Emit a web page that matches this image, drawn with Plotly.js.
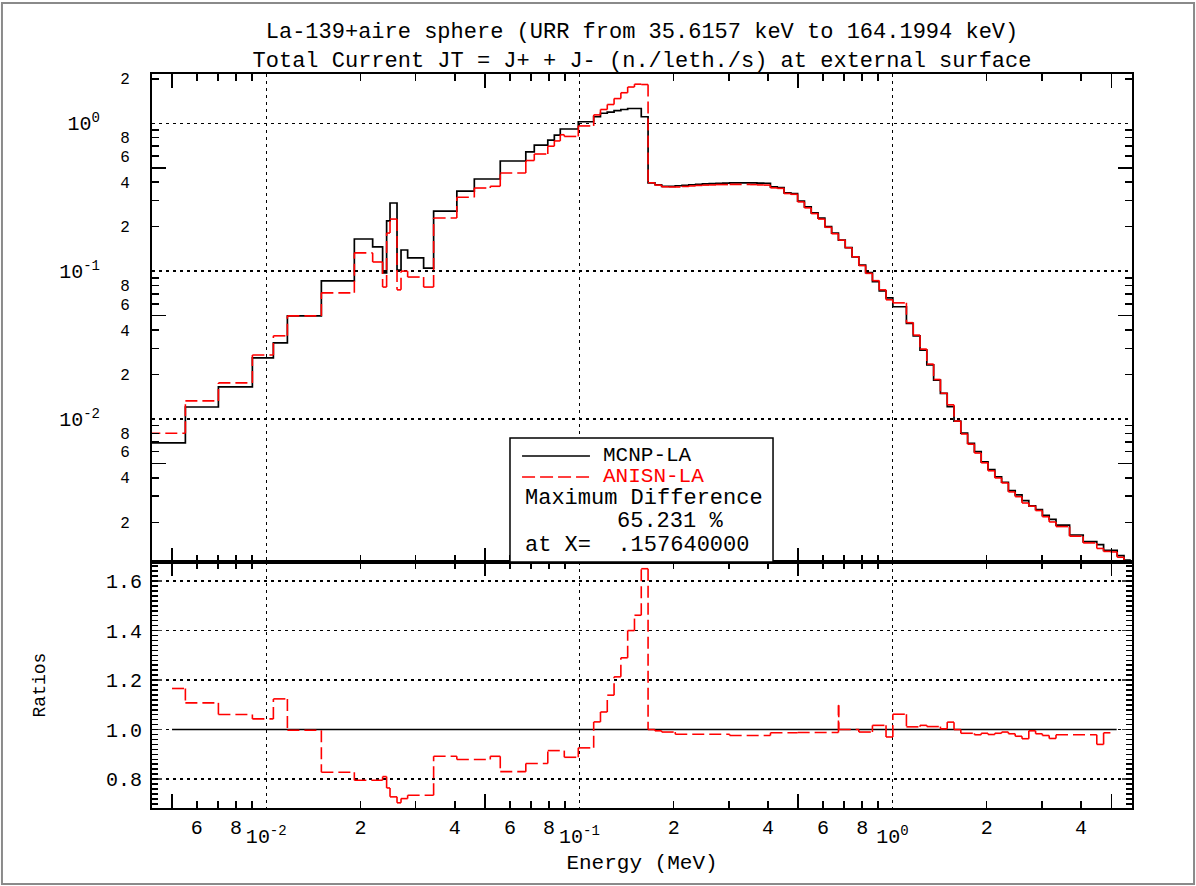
<!DOCTYPE html>
<html><head><meta charset="utf-8">
<script src="https://cdn.plot.ly/plotly-3.0.1.min.js"></script>
<style>html,body{margin:0;padding:0;background:#fff}#chart{width:1196px;height:886px}</style>
</head><body><div id="chart"></div>
<script>
// ---- Data (energy group edges in MeV) ----
const binEdges = [
  0.0042, 0.005516, 0.007032, 0.009028, 0.010536, 0.011679, 0.014994, 0.01911, 0.021866, 0.023526,
  0.024229, 0.024843, 0.026156, 0.026938, 0.028281, 0.031806, 0.034233, 0.040608, 0.046181, 0.05193,
  0.055884, 0.06744, 0.071779, 0.07927, 0.08318, 0.086896, 0.089495, 0.099197, 0.11109, 0.11678,
  0.12277, 0.12906, 0.13568, 0.14264, 0.14995, 0.15764, 0.16572,
  0.17422, 0.18315, 0.19254, 0.20241, 0.21279, 0.2237, 0.23517, 0.24723, 0.25991, 0.27323,
  0.28724, 0.30197, 0.31745, 0.33373, 0.35084, 0.36883, 0.38774, 0.40762, 0.42852, 0.45047,
  0.47356, 0.49784, 0.52337, 0.5502, 0.57841, 0.60807, 0.63925, 0.67203, 0.6736, 0.70648,
  0.74271, 0.78079, 0.82082, 0.86291, 0.90716, 0.95367, 1.00257, 1.05397, 1.10801, 1.16483,
  1.22452, 1.2873, 1.35331, 1.4227, 1.49565, 1.57234, 1.65296, 1.73771, 1.82681, 1.92048,
  2.01888, 2.12239, 2.23122, 2.34563, 2.4659, 2.59234, 2.72527, 2.865, 3.0119, 3.16634,
  3.32857, 3.49924, 3.67866, 3.86729, 4.06559, 4.27406, 4.49322, 4.72361, 4.96582, 5.22044,
  5.48812, 5.76953
];
// MCNP-LA total current per group
const mcnpLA = [
  0.00689, 0.01205, 0.0165, 0.0259, 0.0327, 0.0498, 0.0859, 0.165, 0.146, 0.0973,
  0.219, 0.289, 0.1016, 0.139, 0.1228, 0.1047, 0.255, 0.348, 0.42, 0.42,
  0.556, 0.64, 0.713, 0.77, 0.833, 0.915, 0.915, 1.025, 1.108, 1.17,
  1.19, 1.22, 1.24, 1.26, 1.26, 1.108,
  0.396, 0.384, 0.375, 0.375, 0.378, 0.381, 0.384, 0.387, 0.389, 0.391,
  0.393, 0.394, 0.395, 0.395, 0.395, 0.395, 0.394, 0.393, 0.372, 0.368,
  0.338, 0.334, 0.298, 0.272, 0.248, 0.228, 0.200, 0.181, 0.162, 0.162,
  0.144, 0.125, 0.110, 0.0976, 0.0848, 0.0735, 0.066, 0.0574, 0.0574, 0.0443,
  0.0365, 0.0292, 0.0232, 0.0183, 0.01488, 0.0121, 0.00967, 0.00803, 0.00685, 0.00601,
  0.00513, 0.00455, 0.00405, 0.00373, 0.00327, 0.00306, 0.0028, 0.00258, 0.00244, 0.00223,
  0.00209, 0.00191, 0.00191, 0.00164, 0.00164, 0.00148, 0.00148, 0.00141, 0.00129, 0.00129,
  0.00119, 0.00111
];
// ANISN-LA total current per group
const anisnLA = [
  0.0080, 0.01325, 0.01754, 0.0271, 0.0365, 0.0498, 0.0713, 0.1328, 0.1153, 0.078,
  0.181, 0.225, 0.0747, 0.100, 0.0912, 0.078, 0.229, 0.316, 0.365, 0.375,
  0.461, 0.56, 0.62, 0.70, 0.76, 0.837, 0.815, 0.96, 1.14, 1.24,
  1.34, 1.47, 1.61, 1.76, 1.84, 1.83,
  0.396, 0.382, 0.372, 0.371, 0.371, 0.374, 0.377, 0.380, 0.382, 0.383,
  0.385, 0.385, 0.386, 0.386, 0.386, 0.385, 0.383, 0.382, 0.366, 0.363,
  0.335, 0.331, 0.294, 0.268, 0.245, 0.225, 0.198, 0.179, 0.162, 0.162,
  0.144, 0.125, 0.109, 0.0966, 0.0862, 0.0747, 0.064, 0.061, 0.061, 0.0448,
  0.0369, 0.0297, 0.0235, 0.0185, 0.01492, 0.01246, 0.00967, 0.00791, 0.00675, 0.00588,
  0.00505, 0.00446, 0.00399, 0.00369, 0.00321, 0.00298, 0.0027, 0.00257, 0.0024, 0.00218,
  0.00201, 0.00187, 0.00187, 0.00161, 0.00161, 0.00145, 0.00145, 0.00133, 0.00127, 0.00126,
  0.00116, 0.00109
];
// Ratio ANISN/MCNP per group (lower panel)
const ratios = [
  1.166, 1.108, 1.061, 1.043, 1.124, 0.997, 0.8275, 0.795, 0.795, 0.81,
  0.764, 0.728, 0.704, 0.721, 0.7345, 0.7345, 0.892, 0.879, 0.879, 0.892,
  0.83, 0.863, 0.863, 0.915, 0.915, 0.915, 0.888, 0.926, 1.031, 1.071,
  1.139, 1.213, 1.29, 1.40, 1.462, 1.65,
  1.0, 0.995, 0.99, 0.99, 0.981, 0.981, 0.981, 0.981, 0.981, 0.981,
  0.981, 0.981, 0.976, 0.976, 0.976, 0.976, 0.976, 0.976, 0.987, 0.987,
  0.987, 0.987, 0.988, 0.988, 0.988, 0.988, 0.988, 0.988, 1.098, 1.0,
  1.0, 1.0, 0.99, 0.99, 1.017, 1.017, 0.97, 1.062, 1.062, 1.011,
  1.011, 1.017, 1.012, 1.012, 1.003, 1.03, 1.0, 0.985, 0.985, 0.979,
  0.985, 0.98, 0.985, 0.99, 0.983, 0.973, 0.963, 0.995, 0.983, 0.976,
  0.964, 0.979, 0.979, 0.979, 0.979, 0.979, 0.979, 0.94, 0.987, 0.985,
  0.98, 0.98
];
const ratioStart = 0.005, ratioEnd = 4.96582;
const refLineX = [0.005, 5.2], refLineY = [1.0, 1.0];

const titleText = 'La-139+aire sphere (URR from 35.6157 keV to 164.1994 keV)<br>' +
                  'Total Current JT = J+ + J- (n./leth./s) at external surface';
const seriesNames = ['MCNP-LA', 'ANISN-LA'];
const maxDiffText = ['Maximum Difference', '65.231 %', 'at X=\u00a0\u00a0.157640000'];

// x tick labels
const xDecades = [0.01, 0.1, 1];
const xDecadeText = ['10<sup>-2</sup>', '10<sup>-1</sup>', '10<sup>0</sup>'];
const xLabelVals = [0.006, 0.008, 0.02, 0.04, 0.06, 0.08, 0.2, 0.4, 0.6, 0.8, 2, 4];
const xLabelText = ['6', '8', '2', '4', '6', '8', '2', '4', '6', '8', '2', '4'];
const xPlainVals = [0.007, 0.009, 0.03, 0.07, 0.09, 0.3, 0.7, 0.9, 3];
const xLongVals = [0.005, 0.05, 0.5, 5];
// y (top) tick labels
const yDecades = [0.01, 0.1, 1];
const yDecadeText = ['10<sup>-2</sup>', '10<sup>-1</sup>', '10<sup>0</sup>'];
const yLabelVals = [0.002, 0.004, 0.006, 0.008, 0.02, 0.04, 0.06, 0.08, 0.2, 0.4, 0.6, 0.8, 2];
const yLabelText = ['2', '4', '6', '8', '2', '4', '6', '8', '2', '4', '6', '8', '2'];
const yPlainVals = [0.003, 0.007, 0.009, 0.03, 0.07, 0.09, 0.3, 0.7, 0.9];
const yLongVals = [0.005, 0.05, 0.5];
// ratio ticks
const rTickVals = [0.8, 1.0, 1.2, 1.4, 1.6];
const rTickText = ['0.8', '1.0', '1.2', '1.4', '1.6'];

// ---- helpers ----
function stepLine(edges, vals) {
  return {x: edges.slice(), y: vals.concat([vals[vals.length - 1]])};
}
// separate sub-paths for each horizontal/vertical piece so the dash pattern restarts
function stepSegments(edges, vals, lo, hi) {
  const runs = [];
  for (let i = 0; i < vals.length; i++) {
    let a = edges[i], b = edges[i + 1];
    if (b <= lo || a >= hi) continue;
    a = Math.max(a, lo); b = Math.min(b, hi);
    const v = vals[i];
    if (runs.length && runs[runs.length - 1].v === v) runs[runs.length - 1].b = b;
    else runs.push({a: a, b: b, v: v});
  }
  const x = [], y = [];
  runs.forEach((r, k) => {
    x.push(r.a, r.b, null); y.push(r.v, r.v, null);
    if (k < runs.length - 1) { x.push(r.b, r.b, null); y.push(r.v, runs[k + 1].v, null); }
  });
  return {x: x, y: y};
}

const RED = '#ff0000';
const DASH = '12px,5px';
const FONT = 'Liberation Mono, DejaVu Sans Mono, monospace';

const mc = stepLine(binEdges, mcnpLA);
const an = stepSegments(binEdges, anisnLA, -Infinity, Infinity);
const ra = stepSegments(binEdges, ratios, ratioStart, ratioEnd);

const traces = [
  {type:'scatter', mode:'lines', x: mc.x, y: mc.y, line:{shape:'hv', color:'#000', width:1.7}, xaxis:'x', yaxis:'y', name: seriesNames[0], hoverinfo:'skip'},
  {type:'scatter', mode:'lines', x: an.x, y: an.y, connectgaps:false, line:{color:RED, width:1.6, dash:DASH}, xaxis:'x', yaxis:'y', name: seriesNames[1], hoverinfo:'skip'},
  {type:'scatter', mode:'lines', x: refLineX, y: refLineY, line:{color:'#000', width:1.6}, xaxis:'x2', yaxis:'y2', hoverinfo:'skip'},
  {type:'scatter', mode:'lines', x: ra.x, y: ra.y, connectgaps:false, line:{color:RED, width:1.6, dash:DASH}, xaxis:'x2', yaxis:'y2', hoverinfo:'skip'},
  // empty traces registering the overlay tick axes
  {type:'scatter', x:[], y:[], xaxis:'x3', yaxis:'y', hoverinfo:'skip'},
  {type:'scatter', x:[], y:[], xaxis:'x5', yaxis:'y', hoverinfo:'skip'},
  {type:'scatter', x:[], y:[], xaxis:'x', yaxis:'y3', hoverinfo:'skip'},
  {type:'scatter', x:[], y:[], xaxis:'x', yaxis:'y5', hoverinfo:'skip'},
  {type:'scatter', x:[], y:[], xaxis:'x', yaxis:'y7', hoverinfo:'skip'},
  {type:'scatter', x:[], y:[], xaxis:'x4', yaxis:'y2', hoverinfo:'skip'},
  {type:'scatter', x:[], y:[], xaxis:'x6', yaxis:'y2', hoverinfo:'skip'},
  {type:'scatter', x:[], y:[], xaxis:'x8', yaxis:'y2', hoverinfo:'skip'},
  {type:'scatter', x:[], y:[], xaxis:'x2', yaxis:'y4', hoverinfo:'skip'}
];

const xRange = [-2.365, 0.765];
const yTopRange = [-2.968, 0.3336];
const rRange = [0.683, 1.677];
const split = 0.3351;

const grid = {showgrid:true, gridcolor:'#000', gridwidth:1.5, griddash:'3px,4px'};
const frame = {showline:true, linecolor:'#000', linewidth:2, mirror:true, zeroline:false};
const tickAx = (extra) => Object.assign({showline:true, linecolor:'#000', linewidth:2, mirror:'ticks', zeroline:false,
  showgrid:false, ticks:'inside', tickwidth:1.5, tickcolor:'#000', tickmode:'array', showticklabels:false,
  tickfont:{family:FONT, size:20, color:'#000'}}, extra);

const layout = {
  width:1196, height:886, autosize:false,
  margin:{l:152, r:64, t:74, b:78, pad:0},
  paper_bgcolor:'#fff', plot_bgcolor:'#fff', showlegend:false,
  font:{family:FONT, size:20, color:'#000'},
  title:{text:titleText, x:0.5, xref:'paper', xanchor:'center', y:1 - 38/886, yref:'container', yanchor:'top',
         font:{family:FONT, size:22, color:'#000'}},
  // top panel
  xaxis: Object.assign({}, frame, grid, {type:'log', range:xRange, anchor:'y', domain:[0,1], tickmode:'array', tickvals:xDecades, ticks:'', showticklabels:false}),
  xaxis3: tickAx({type:'log', range:xRange, overlaying:'x', anchor:'y', tickvals:xLabelVals.concat(xPlainVals), ticklen:7}),
  xaxis5: tickAx({type:'log', range:xRange, overlaying:'x', anchor:'y', tickvals:xLongVals, ticklen:14}),
  yaxis: Object.assign({}, frame, grid, {type:'log', range:yTopRange, domain:[split,1], anchor:'x', tickmode:'array', tickvals:yDecades, ticktext:yDecadeText, ticks:'', tickfont:{family:FONT, size:20}, ticklabelstandoff:46}),
  yaxis3: tickAx({type:'log', range:yTopRange, overlaying:'y', anchor:'x', side:'left', tickvals:yLabelVals, ticktext:yLabelText, ticklen:7, showticklabels:true, ticklabelstandoff:17,
    tickfont:{family:FONT, size:16, color:'#000'}}),
  yaxis7: tickAx({type:'log', range:yTopRange, overlaying:'y', anchor:'x', side:'left', tickvals:yPlainVals, ticklen:7}),
  yaxis5: tickAx({type:'log', range:yTopRange, overlaying:'y', anchor:'x', side:'left', tickvals:yLongVals, ticklen:14}),
  // bottom panel
  xaxis2: Object.assign({}, frame, grid, {type:'log', range:xRange, anchor:'y2', domain:[0,1], tickmode:'array', tickvals:xDecades, ticktext:xDecadeText, ticks:'', tickfont:{family:FONT, size:20}, ticklabelstandoff:9,
    title:{text:'Energy (MeV)', font:{family:FONT, size:21}, standoff:6}}),
  xaxis4: tickAx({type:'log', range:xRange, overlaying:'x2', anchor:'y2', tickvals:xLabelVals, ticktext:xLabelText, ticklen:7, showticklabels:true, ticklabelstandoff:0}),
  xaxis8: tickAx({type:'log', range:xRange, overlaying:'x2', anchor:'y2', tickvals:xPlainVals, ticklen:7}),
  xaxis6: tickAx({type:'log', range:xRange, overlaying:'x2', anchor:'y2', tickvals:xLongVals, ticklen:14}),
  yaxis2: Object.assign({}, frame, grid, {range:rRange, domain:[0, split], anchor:'x2', tickmode:'array', tickvals:rTickVals, ticktext:rTickText, ticks:'inside', ticklen:10, tickwidth:1.5, mirror:'ticks', tickfont:{family:FONT, size:20}, ticklabelstandoff:4,
    title:{text:'Ratios', font:{family:FONT, size:18}, standoff:56}}),
  yaxis4: tickAx({range:rRange, overlaying:'y2', anchor:'x2', side:'left', tickmode:'linear', tick0:0, dtick:0.02, ticklen:6}),
  shapes: [
    {type:'rect', xref:'paper', yref:'paper', x0:-0.1531, x1:1.0633, y0:-0.1035, y1:1.0967, line:{color:'#8a8a8a', width:2}},
    {type:'rect', xref:'paper', yref:'paper', x0:0.3653, x1:0.6337, y0:split, y1:0.5041, line:{color:'#000', width:1.5}, fillcolor:'#fff', layer:'above'},
    {type:'line', xref:'paper', yref:'paper', x0:0.3776, x1:0.4469, y0:0.4796, y1:0.4796, line:{color:'#000', width:1.6}},
    {type:'line', xref:'paper', yref:'paper', x0:0.3776, x1:0.4469, y0:0.4510, y1:0.4510, line:{color:RED, width:1.6, dash:'13px,5px'}}
  ],
  annotations: [
    {text:seriesNames[0], xref:'paper', yref:'paper', x:0.4582, y:0.4796, xanchor:'left', yanchor:'middle', showarrow:false, font:{family:FONT, size:21, color:'#000'}},
    {text:seriesNames[1], xref:'paper', yref:'paper', x:0.4582, y:0.4510, xanchor:'left', yanchor:'middle', showarrow:false, font:{family:FONT, size:21, color:RED}},
    {text:maxDiffText[0], xref:'paper', yref:'paper', x:0.3786, y:0.4210, xanchor:'left', yanchor:'middle', showarrow:false, font:{family:FONT, size:22}},
    {text:maxDiffText[1], xref:'paper', yref:'paper', x:0.4724, y:0.3910, xanchor:'left', yanchor:'middle', showarrow:false, font:{family:FONT, size:22}},
    {text:maxDiffText[2], xref:'paper', yref:'paper', x:0.3786, y:0.3583, xanchor:'left', yanchor:'middle', showarrow:false, font:{family:FONT, size:22}}
  ]
};

Plotly.newPlot('chart', traces, layout, {staticPlot:true, displayModeBar:false});
</script>
</body></html>
